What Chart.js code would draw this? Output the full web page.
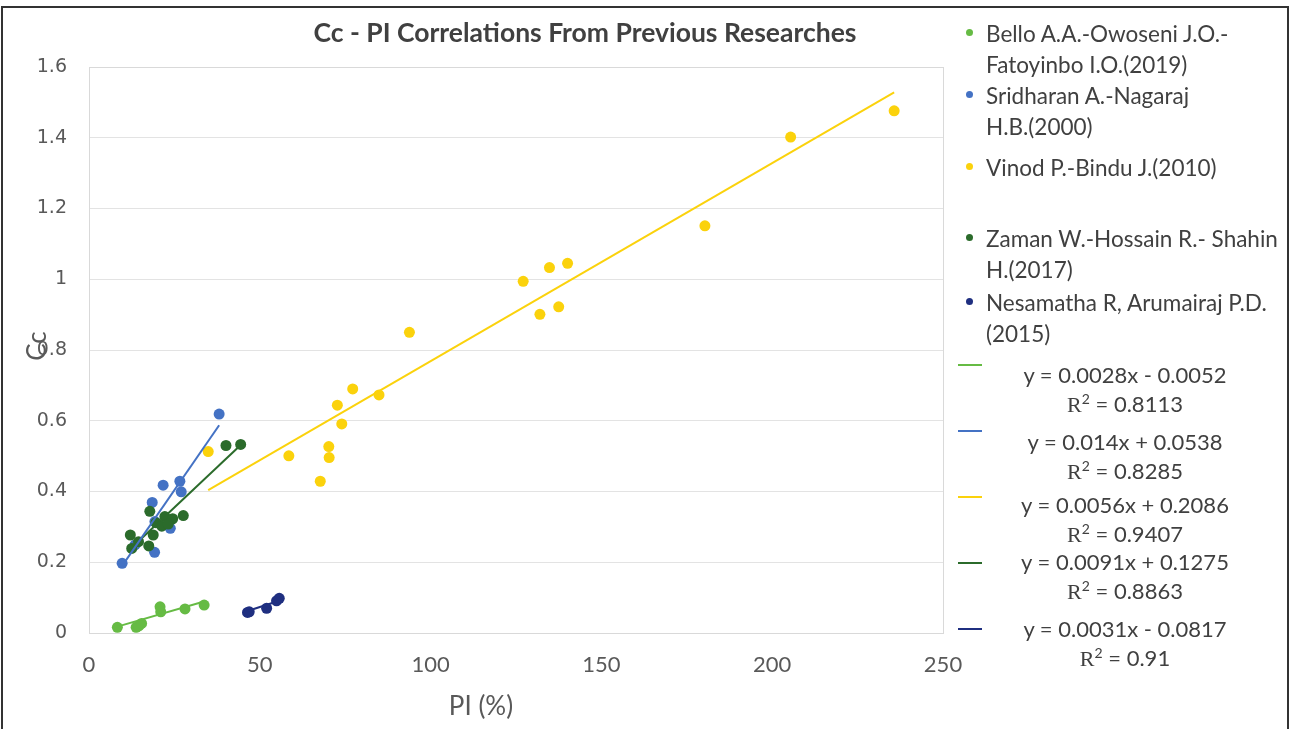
<!DOCTYPE html>
<html>
<head>
<meta charset="utf-8">
<title>Cc - PI Correlations From Previous Researches</title>
<script src="https://cdn.jsdelivr.net/npm/chart.js@4.4.1/dist/chart.umd.min.js"></script>
<style>
  html, body { margin: 0; padding: 0; background: #fff; overflow: hidden; }
  #wrap { position: relative; width: 1290px; height: 729px; font-family: Lato, "Open Sans", sans-serif; color: #404040; }
  #frame { position: absolute; left: 1px; top: 6px; width: 1284px; height: 740px; border: 2px solid #333; }
  #chart { position: absolute; left: 0; top: 0; }
  .t { position: absolute; white-space: nowrap; line-height: 26px; }
  #title { left: 585px; top: 19px; transform: translateX(-50%); font-weight: 700; font-size: 26.5px; }
  #xTitle { left: 481px; top: 692px; transform: translateX(-50%); font-size: 26px; color: #595959; }
  #yTitle { left: 36px; top: 346px; transform: translate(-50%, -50%) rotate(-90deg); font-size: 26px; color: #595959; }
  .name { left: 986px; font-size: 22.5px; line-height: 31px; }
  .dot { position: absolute; width: 7px; height: 7px; border-radius: 50%; }
  .key { position: absolute; left: 958px; width: 24px; height: 2px; }
  .eq { font-size: 22px; transform: translateX(-50%); }
  .eq .r { font-family: "Liberation Serif", serif; }
  .eq sup { font-size: 14px; line-height: 0; }
</style>
</head>
<body>
<div id="wrap">
  <canvas id="chart" width="1290" height="729"></canvas>
  <div id="frame"></div>
  <div class="t" id="title">Cc - PI Correlations From Previous Researches</div>
  <div class="t" id="xTitle">PI (%)</div>
  <div class="t" id="yTitle">Cc</div>
  <div id="legend"></div>
</div>
<script>
// ---- data ----
const piBello = [8.3, 13.8, 14.6, 15.4, 20.8, 21.0, 28.1, 33.7];
const ccBello = [0.016, 0.016, 0.020, 0.027, 0.074, 0.060, 0.068, 0.079];

const piSridharan = [38.1, 21.7, 26.6, 27.0, 18.5, 19.3, 23.8, 13.5, 19.2, 9.7];
const ccSridharan = [0.619, 0.418, 0.429, 0.399, 0.369, 0.315, 0.296, 0.249, 0.228, 0.197];

const piVinod = [34.9, 58.5, 67.7, 70.2, 70.3, 72.7, 74.0, 77.2, 84.9, 93.8,
                 127.1, 132.0, 134.8, 137.5, 140.1, 180.3, 205.4, 235.7];
const ccVinod = [0.513, 0.501, 0.429, 0.527, 0.496, 0.644, 0.591, 0.690, 0.673, 0.850,
                 0.994, 0.901, 1.033, 0.922, 1.045, 1.151, 1.402, 1.476];

const piZaman = [40.1, 44.4, 17.8, 27.6, 22.2, 24.5, 19.6, 21.3, 23.2, 12.1, 18.8, 14.5, 12.5, 17.5];
const ccZaman = [0.530, 0.533, 0.344, 0.332, 0.329, 0.323, 0.312, 0.302, 0.308, 0.277, 0.277, 0.258, 0.239, 0.246];

const piNesamatha = [46.4, 46.9, 52.0, 54.9, 55.7];
const ccNesamatha = [0.058, 0.060, 0.070, 0.091, 0.098];

const seriesNames = [
  ["Bello A.A.-Owoseni J.O.-", "Fatoyinbo I.O.(2019)"],
  ["Sridharan A.-Nagaraj", "H.B.(2000)"],
  ["Vinod P.-Bindu J.(2010)"],
  ["Zaman W.-Hossain R.- Shahin", "H.(2017)"],
  ["Nesamatha R, Arumairaj P.D.", "(2015)"]
];
const seriesColors = ["#66bb44", "#4472c4", "#fbd20c", "#2b6b2b", "#1f2f80"];

// linear trendlines as printed in the legend
const trendSlopes = [0.0028, 0.014, 0.0056, 0.0091, 0.0031];
const trendIntercepts = [-0.0052, 0.0538, 0.2086, 0.1275, -0.0817];
const trendR2 = ["0.8113", "0.8285", "0.9407", "0.8863", "0.91"];

const xTicks = [0, 50, 100, 150, 200, 250];
const yTicks = [0, 0.2, 0.4, 0.6, 0.8, 1, 1.2, 1.4, 1.6];

// ---- build ----
const piAll = [piBello, piSridharan, piVinod, piZaman, piNesamatha];
const ccAll = [ccBello, ccSridharan, ccVinod, ccZaman, ccNesamatha];

function pts(xs, ys) {
  return xs.map((x, i) => ({ x, y: ys[i] }));
}
function trend(xs, m, b) {
  const lo = Math.min(...xs), hi = Math.max(...xs);
  return [{ x: lo, y: m * lo + b }, { x: hi, y: m * hi + b }];
}

const datasets = [];
piAll.forEach((xs, i) => {
  datasets.push({
    label: seriesNames[i].join(" "),
    data: pts(xs, ccAll[i]),
    backgroundColor: seriesColors[i],
    borderColor: seriesColors[i],
    pointRadius: 5.5,
    pointHoverRadius: 5.5,
    pointBorderWidth: 0,
    order: 10 - i,
  });
});
piAll.forEach((xs, i) => {
  datasets.push({
    label: "Linear (" + seriesNames[i].join(" ") + ")",
    data: trend(xs, trendSlopes[i], trendIntercepts[i]),
    borderColor: seriesColors[i],
    borderWidth: 2,
    pointRadius: 0,
    showLine: true,
    order: 0,
  });
});

// light frame round the plot area
const plotFrame = {
  id: "plotFrame",
  beforeDatasetsDraw(chart) {
    const { ctx, chartArea: a } = chart;
    ctx.save();
    ctx.strokeStyle = "#d9d9d9";
    ctx.lineWidth = 1;
    ctx.strokeRect(Math.round(a.left) + 0.5, Math.round(a.top) + 0.5,
      Math.round(a.right - a.left), Math.round(a.bottom - a.top));
    ctx.restore();
  },
};

new Chart(document.getElementById("chart"), {
  type: "scatter",
  data: { datasets },
  options: {
    responsive: false,
    animation: false,
    layout: { padding: { left: 0, right: 347, top: 67, bottom: 0 } },
    scales: {
      x: {
        type: "linear",
        min: xTicks[0],
        max: xTicks[xTicks.length - 1],
        afterBuildTicks: (s) => { s.ticks = xTicks.map((v) => ({ value: v })); },
        afterFit: (s) => { s.height = 96; },
        grid: { display: false, drawTicks: false },
        border: { display: false },
        ticks: { color: "#595959", font: { family: "Lato", size: 22 }, padding: 19, maxRotation: 0 },
      },
      y: {
        min: yTicks[0],
        max: yTicks[yTicks.length - 1],
        afterBuildTicks: (s) => { s.ticks = yTicks.map((v) => ({ value: v })); },
        afterFit: (s) => { s.width = 89; },
        grid: { color: "#e3e3e3", drawTicks: false },
        border: { display: false },
        ticks: {
          color: "#595959",
          font: { family: "DejaVu Sans", size: 19 },
          padding: 22,
          callback: (v) => String(+Number(v).toFixed(1)),
        },
      },
    },
    plugins: {
      legend: { display: false },
      tooltip: { enabled: false },
    },
  },
  plugins: [plotFrame],
});

// ---- legend on the right ----
const legend = document.getElementById("legend");
const nameRowY = [33, 95, 167, 238, 302];
const keyRowY = [365, 431, 497, 563, 629];
const eqRowY = [373, 440, 503, 560, 627];
const eqCenterX = 1125;

seriesNames.forEach((lines, i) => {
  const dot = document.createElement("div");
  dot.className = "dot";
  dot.style.background = seriesColors[i];
  dot.style.left = "966px";
  dot.style.top = (nameRowY[i] - 4) + "px";
  legend.appendChild(dot);

  const txt = document.createElement("div");
  txt.className = "t name";
  txt.style.top = (nameRowY[i] - 15) + "px";
  txt.innerHTML = lines.join("<br>");
  legend.appendChild(txt);
});

trendSlopes.forEach((m, i) => {
  const key = document.createElement("div");
  key.className = "key";
  key.style.background = seriesColors[i];
  key.style.top = (keyRowY[i] - 1) + "px";
  legend.appendChild(key);

  const b = trendIntercepts[i];
  const eq = document.createElement("div");
  eq.className = "t eq";
  eq.style.left = eqCenterX + "px";
  eq.style.top = (eqRowY[i] - 13) + "px";
  eq.style.textAlign = "center";
  eq.style.lineHeight = "29px";
  eq.innerHTML = "y = " + m + "x " + (b < 0 ? "- " : "+ ") + Math.abs(b) +
    '<br><span class="r">R</span><sup>2</sup> = ' + trendR2[i];
  legend.appendChild(eq);
});
</script>
</body>
</html>
